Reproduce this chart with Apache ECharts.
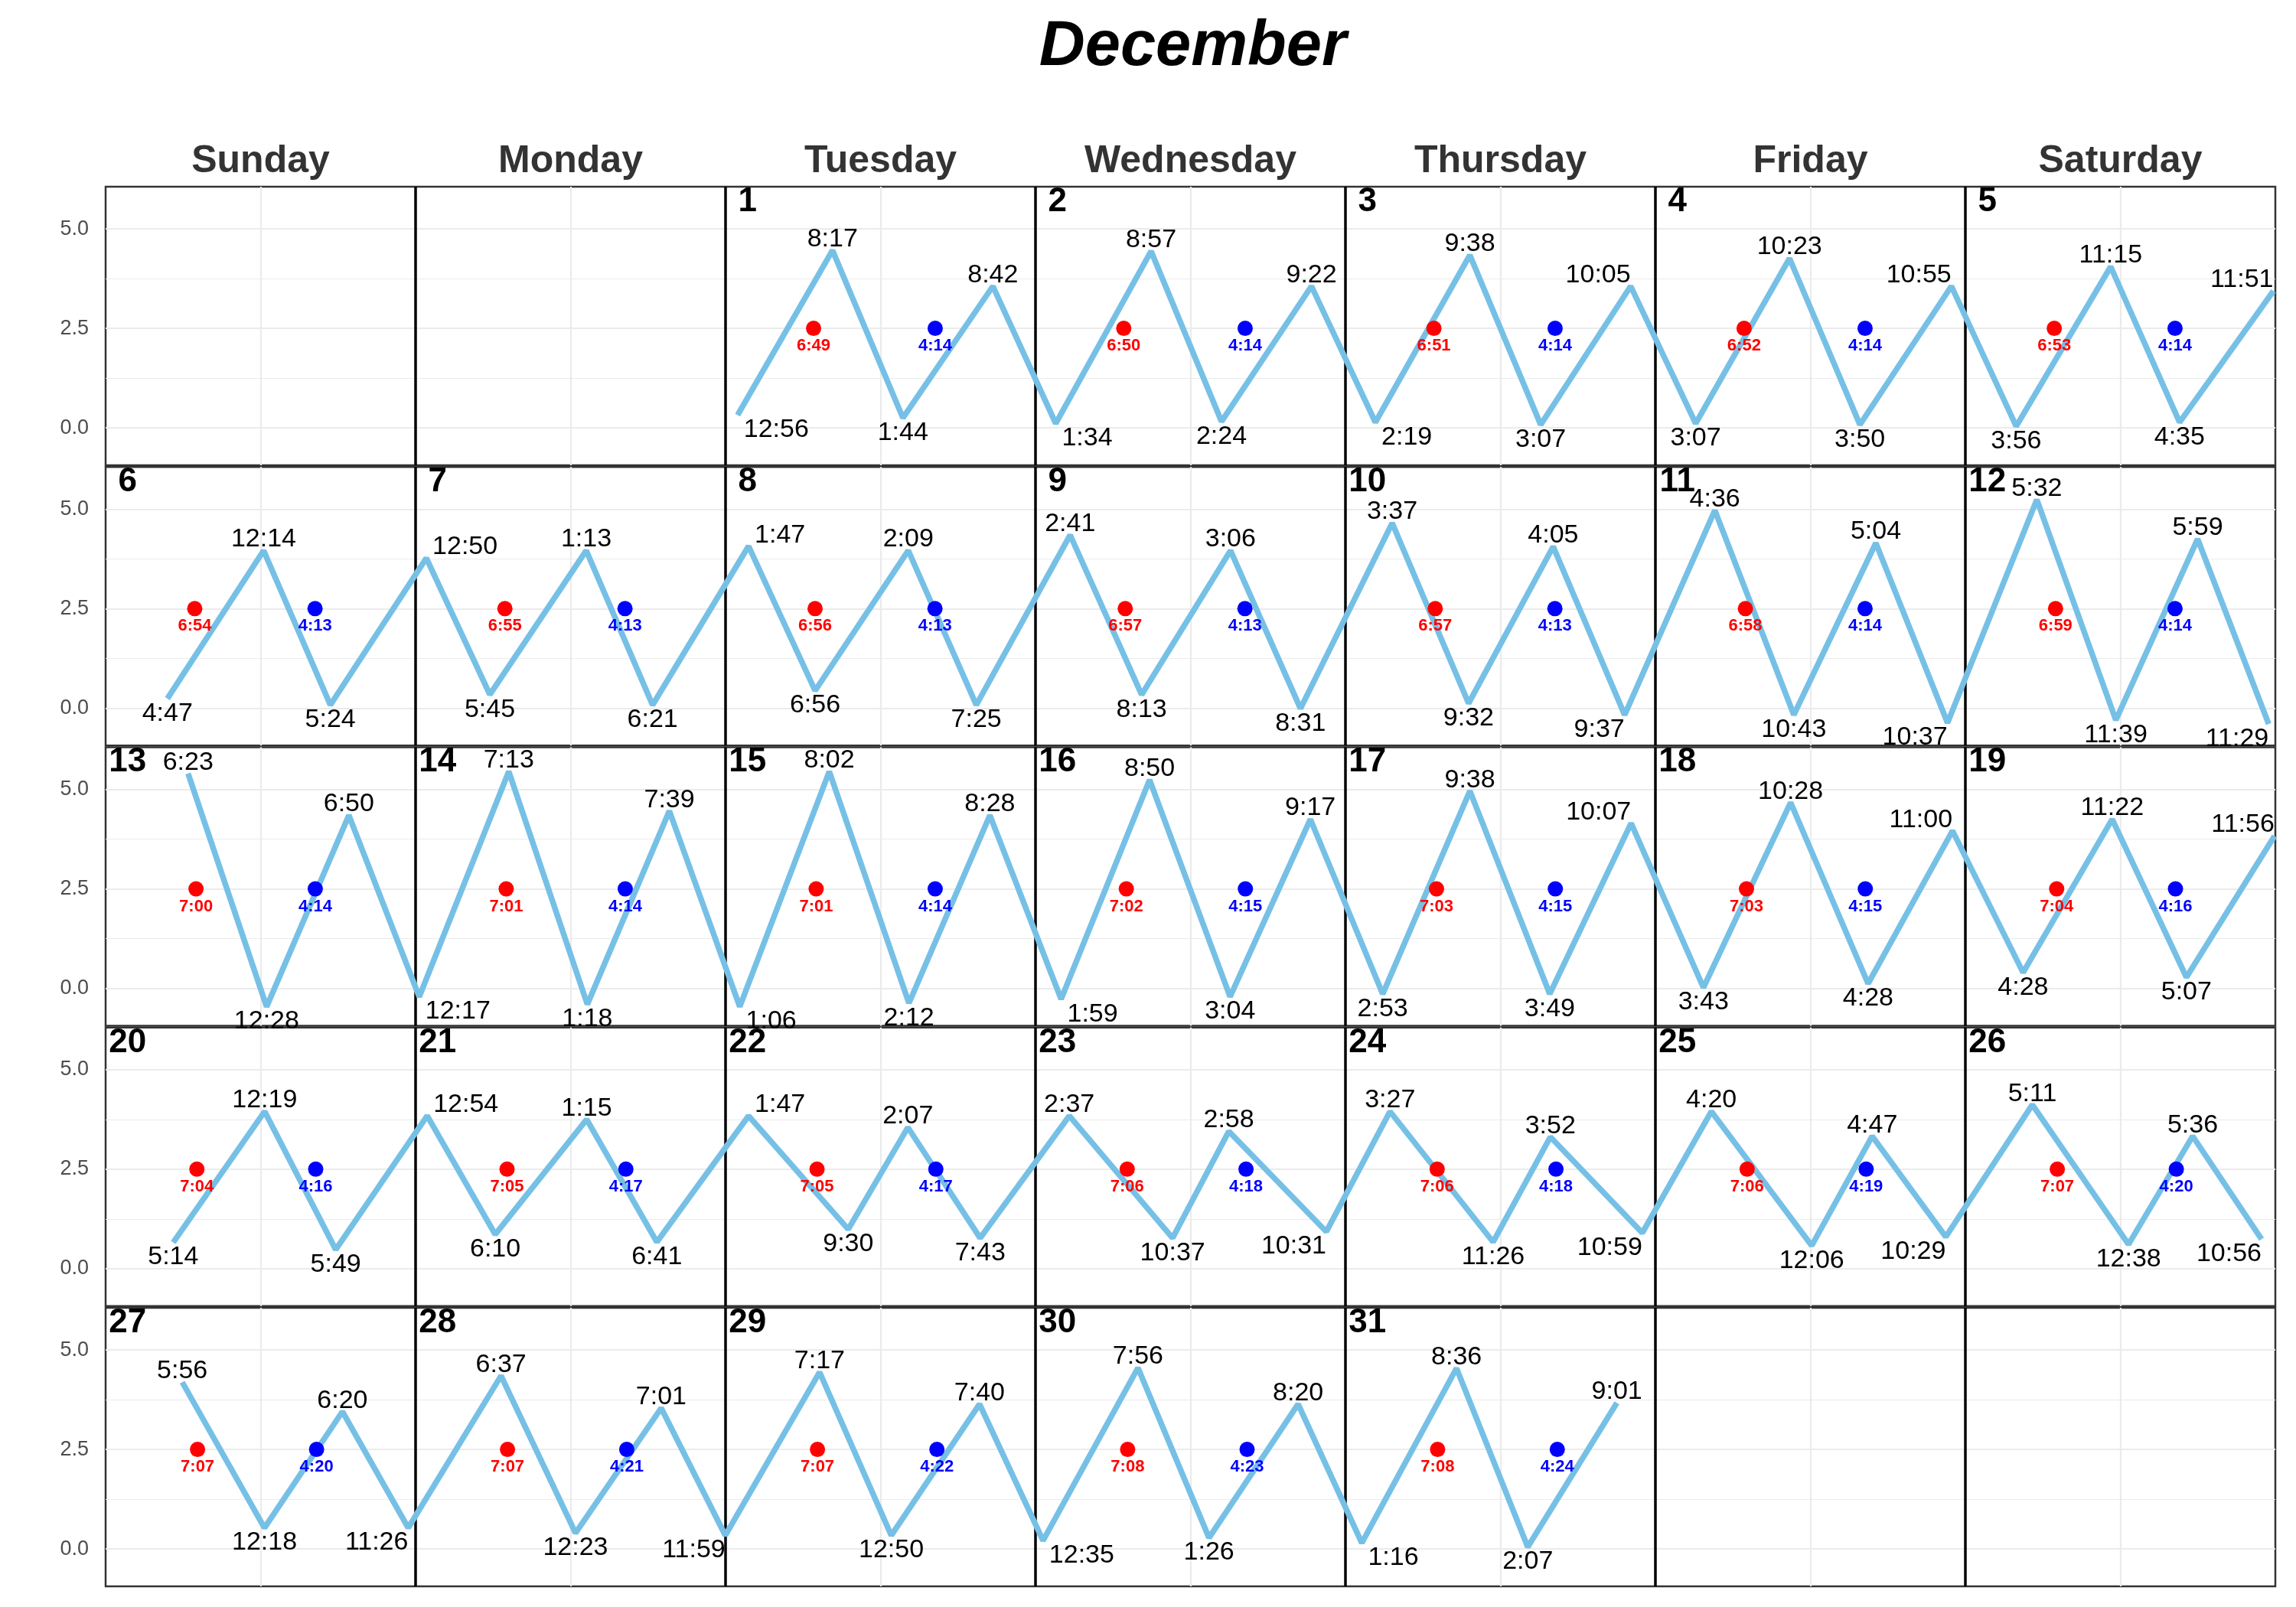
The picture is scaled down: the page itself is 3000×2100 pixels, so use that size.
<!DOCTYPE html>
<html><head><meta charset="utf-8">
<script src="https://cdn.jsdelivr.net/npm/echarts@6/dist/echarts.min.js"></script>
<style>html,body{margin:0;padding:0;background:#fff}#c{width:3000px;height:2100px}</style>
</head><body><div id="c"></div>
<script>
// ---------------- DATA ----------------
const monthName = 'December';
const weekdayNames = ['Sunday','Monday','Tuesday','Wednesday','Thursday','Friday','Saturday'];
const firstWeekday = 2;   // December 1 is a Tuesday
const daysInMonth = 31;
const yLabelTicks = [0, 2.5, 5];
const yMinorTicks = [1.25, 3.75];

const tideDay = [
  1,1,1,1, 2,2,2,2, 3,3,3,3, 4,4,4,4, 5,5,5,5,
  6,6,6, 7,7,7,7, 8,8,8,8, 9,9,9,9, 10,10,10,10, 11,11,11,11, 12,12,12,12,
  13,13,13, 14,14,14,14, 15,15,15,15, 16,16,16,16, 17,17,17,17, 18,18,18,18, 19,19,19,19,
  20,20,20, 21,21,21,21, 22,22,22,22, 23,23,23,23, 24,24,24,24, 25,25,25,25, 26,26,26,26,
  27,27,27,27, 28,28,28,28, 29,29,29, 30,30,30,30, 31,31,31,31
];
const tideTime = [
  '00:56','08:17','13:44','20:42', '01:34','08:57','14:24','21:22', '02:19','09:38','15:07','22:05',
  '03:07','10:23','15:50','22:55', '03:56','11:15','16:35','23:51',
  '04:47','12:14','17:24', '00:50','05:45','13:13','18:21', '01:47','06:56','14:09','19:25',
  '02:41','08:13','15:06','20:31', '03:37','09:32','16:05','21:37', '04:36','10:43','17:04','22:37',
  '05:32','11:39','17:59','23:29',
  '06:23','12:28','18:50', '00:17','07:13','13:18','19:39', '01:06','08:02','14:12','20:28',
  '01:59','08:50','15:04','21:17', '02:53','09:38','15:49','22:07', '03:43','10:28','16:28','23:00',
  '04:28','11:22','17:07','23:56',
  '05:14','12:19','17:49', '00:54','06:10','13:15','18:41', '01:47','09:30','14:07','19:43',
  '02:37','10:37','14:58','22:31', '03:27','11:26','15:52','22:59', '04:20','12:06','16:47','22:29',
  '05:11','12:38','17:36','22:56',
  '05:56','12:18','18:20','23:26', '06:37','12:23','19:01','23:59', '07:17','12:50','19:40',
  '00:35','07:56','13:26','20:20', '01:16','08:36','14:07','21:01'
];
const tideHeight = [
  0.32,4.46,0.25,3.56, 0.11,4.44,0.16,3.56, 0.14,4.34,0.08,3.56,
  0.11,4.26,0.08,3.56, 0.04,4.05,0.14,3.44,
  0.24,3.96,0.08, 3.77,0.34,3.96,0.08, 4.07,0.44,3.96,0.08,
  4.35,0.34,3.96,-0.01, 4.65,0.12,4.06,-0.17, 4.97,-0.17,4.15,-0.37,
  5.24,-0.30,4.25,-0.40,
  5.40,-0.46,4.35, -0.21,5.45,-0.40,4.46, -0.46,5.45,-0.37,4.35,
  -0.27,5.24,-0.21,4.25, -0.14,4.96,-0.14,4.15, 0.02,4.67,0.12,3.96,
  0.40,4.25,0.28,3.83,
  0.66,3.95,0.48, 3.84,0.86,3.75,0.67, 3.84,0.99,3.55,0.77,
  3.84,0.77,3.45,0.93, 3.95,0.67,3.31,0.90, 3.95,0.58,3.33,0.80,
  4.12,0.61,3.33,0.74,
  4.19,0.53,3.45,0.53, 4.35,0.40,3.54,0.34, 4.44,0.34,3.64,
  0.21,4.55,0.28,3.64, 0.15,4.54,0.05,3.67
];
const sunrise = [
  '06:49','06:50','06:51','06:52','06:53','06:54','06:55','06:56','06:57','06:57',
  '06:58','06:59','07:00','07:01','07:01','07:02','07:03','07:03','07:04','07:04',
  '07:05','07:05','07:06','07:06','07:06','07:07','07:07','07:07','07:07','07:08','07:08'
];
const sunset = [
  '16:14','16:14','16:14','16:14','16:14','16:13','16:13','16:13','16:13','16:13',
  '16:14','16:14','16:14','16:14','16:14','16:15','16:15','16:15','16:16','16:16',
  '16:17','16:17','16:18','16:18','16:19','16:20','16:20','16:21','16:22','16:23','16:24'
];

// ---------------- LAYOUT / STYLE ----------------
const FONT = "'Liberation Sans', Arial, Helvetica, sans-serif";
const W = 3000;
const gridLeft = 138, gridRight = 27;
const rowTop0 = 244, rowStep = 366.25, rowH = 364;
const yMin = -0.94, yMax = 6.06;
const nRows = 5;
const cellW = (W - gridLeft - gridRight) / 7;
const pxPerHour = cellW / 24;
const lineColor = '#76C0E6';

function toHours(t) { const p = t.split(':'); return +p[0] + (+p[1]) / 60; }
function fmt12(t) { const p = t.split(':'); let h = (+p[0]) % 12; if (h === 0) h = 12; return h + ':' + p[1]; }
function cellOf(day) { const k = day - 1 + firstWeekday; return { row: Math.floor(k / 7), col: k % 7 }; }

const mctx = document.createElement('canvas').getContext('2d');
mctx.font = '34px ' + FONT;
function textW(s) { return mctx.measureText(s).width; }

const mids = [], bounds = [];
for (let c = 0; c < 7; c++) mids.push(c * 24 + 12);
for (let c = 1; c < 7; c++) bounds.push(c * 24);

const grids = [], xAxes = [], yAxes = [], series = [];
for (let r = 0; r < nRows; r++) {
  grids.push({ left: gridLeft, right: gridRight, top: rowTop0 + r * rowStep, height: rowH,
    show: true, borderColor: '#333', borderWidth: 2.5, backgroundColor: 'transparent' });
  xAxes.push({ gridIndex: r, type: 'value', min: 0, max: 168,
    axisLine: { show: false }, axisTick: { show: false, customValues: mids },
    axisLabel: { show: false },
    splitLine: { show: true, lineStyle: { color: '#EBEBEB', width: 2.2 } } });
  xAxes.push({ gridIndex: r, type: 'value', position: 'top', min: 0, max: 168,
    axisLine: { show: false }, axisTick: { show: false, customValues: bounds },
    axisLabel: { show: r === 0, customValues: mids, margin: 8,
      formatter: v => weekdayNames[Math.round((v - 12) / 24)],
      fontSize: 50, fontWeight: 'bold', color: '#333', fontFamily: FONT },
    splitLine: { show: true, lineStyle: { color: '#000', width: 3.5 } } });
  yAxes.push({ gridIndex: r, type: 'value', min: yMin, max: yMax,
    axisLine: { show: false }, axisTick: { show: false, customValues: yLabelTicks },
    axisLabel: { customValues: yLabelTicks, formatter: v => v.toFixed(1), margin: 22,
      fontSize: 27, color: '#4d4d4d', fontFamily: FONT },
    splitLine: { show: true, lineStyle: { color: '#EBEBEB', width: 2.2 } } });
  yAxes.push({ gridIndex: r, type: 'value', min: yMin, max: yMax, position: 'left',
    axisLine: { show: false }, axisTick: { show: false, customValues: yMinorTicks },
    axisLabel: { show: false },
    splitLine: { show: true, lineStyle: { color: '#EBEBEB', width: 1.1 } } });
}

// tide points per row
const rowsLine = [], rowsLab = [];
for (let r = 0; r < nRows; r++) { rowsLine.push([]); rowsLab.push([]); }
for (let i = 0; i < tideTime.length; i++) {
  const { row, col } = cellOf(tideDay[i]);
  const hh = toHours(tideTime[i]);
  const x = col * 24 + hh, y = tideHeight[i];
  const prev = i > 0 ? tideHeight[i - 1] : -Infinity;
  const next = i < tideHeight.length - 1 ? tideHeight[i + 1] : -Infinity;
  const isHigh = (i > 0 ? y > prev : y > next);
  const txt = fmt12(tideTime[i]);
  const w = textW(txt), cx = hh * pxPerHour;
  let align = 'center', offset = [0, 0];
  if (cx - w / 2 < 10) { align = 'left'; offset = [8, 0]; }
  else if (cx + w / 2 > cellW - 10) { align = 'right'; offset = [0, 0]; }
  rowsLine[row].push([x, y]);
  rowsLab[row].push({ value: [x, y], name: txt,
    label: { position: isHigh ? 'top' : 'bottom', align: align, offset: offset, distance: isHigh ? -3 : 2 } });
}

const sunR = [], sunS = [], dayNums = [];
for (let r = 0; r < nRows; r++) { sunR.push([]); sunS.push([]); dayNums.push([]); }
for (let d = 1; d <= daysInMonth; d++) {
  const { row, col } = cellOf(d);
  sunR[row].push({ value: [col * 24 + toHours(sunrise[d - 1]), 2.5], name: fmt12(sunrise[d - 1]) });
  sunS[row].push({ value: [col * 24 + toHours(sunset[d - 1]), 2.5], name: fmt12(sunset[d - 1]) });
  dayNums[row].push({ value: [col * 24 + 1.7, 5.68], name: String(d) });
}

for (let r = 0; r < nRows; r++) {
  const ax = { xAxisIndex: 2 * r, yAxisIndex: 2 * r };
  series.push(Object.assign({ type: 'line', data: rowsLine[r], showSymbol: false, symbol: 'none',
    lineStyle: { color: lineColor, width: 7.5, opacity: 1 }, z: 2, silent: true }, ax));
  series.push(Object.assign({ type: 'scatter', data: sunR[r], symbolSize: 20,
    itemStyle: { color: '#FF0000', opacity: 1 }, z: 3,
    label: { show: true, position: 'bottom', distance: 2, formatter: '{b}', color: '#FF0000', opacity: 1,
      fontSize: 22, fontWeight: 'bold', fontFamily: FONT } }, ax));
  series.push(Object.assign({ type: 'scatter', data: sunS[r], symbolSize: 20,
    itemStyle: { color: '#0000FF', opacity: 1 }, z: 3,
    label: { show: true, position: 'bottom', distance: 2, formatter: '{b}', color: '#0000FF', opacity: 1,
      fontSize: 22, fontWeight: 'bold', fontFamily: FONT } }, ax));
  series.push(Object.assign({ type: 'scatter', data: rowsLab[r], symbolSize: 1,
    itemStyle: { color: 'rgba(0,0,0,0)', opacity: 1 }, z: 4,
    label: { show: true, formatter: '{b}', color: '#000', opacity: 1, fontSize: 34, fontFamily: FONT } }, ax));
  series.push(Object.assign({ type: 'scatter', data: dayNums[r], symbolSize: 1,
    itemStyle: { color: 'rgba(0,0,0,0)', opacity: 1 }, z: 4,
    label: { show: true, position: 'inside', formatter: '{b}', color: '#000', opacity: 1, fontSize: 44,
      fontWeight: 'bold', fontFamily: FONT } }, ax));
}

const chart = echarts.init(document.getElementById('c'), null, { renderer: 'canvas' });
chart.setOption({
  backgroundColor: '#fff',
  animation: false,
  grid: grids, xAxis: xAxes, yAxis: yAxes, series: series,
  graphic: [{ type: 'text', x: (gridLeft + W - gridRight) / 2 + 3, y: 62,
    style: { text: monthName, font: 'italic bold 83px ' + FONT, fill: '#000',
      textAlign: 'center', textVerticalAlign: 'middle' } }]
});
</script></body></html>
